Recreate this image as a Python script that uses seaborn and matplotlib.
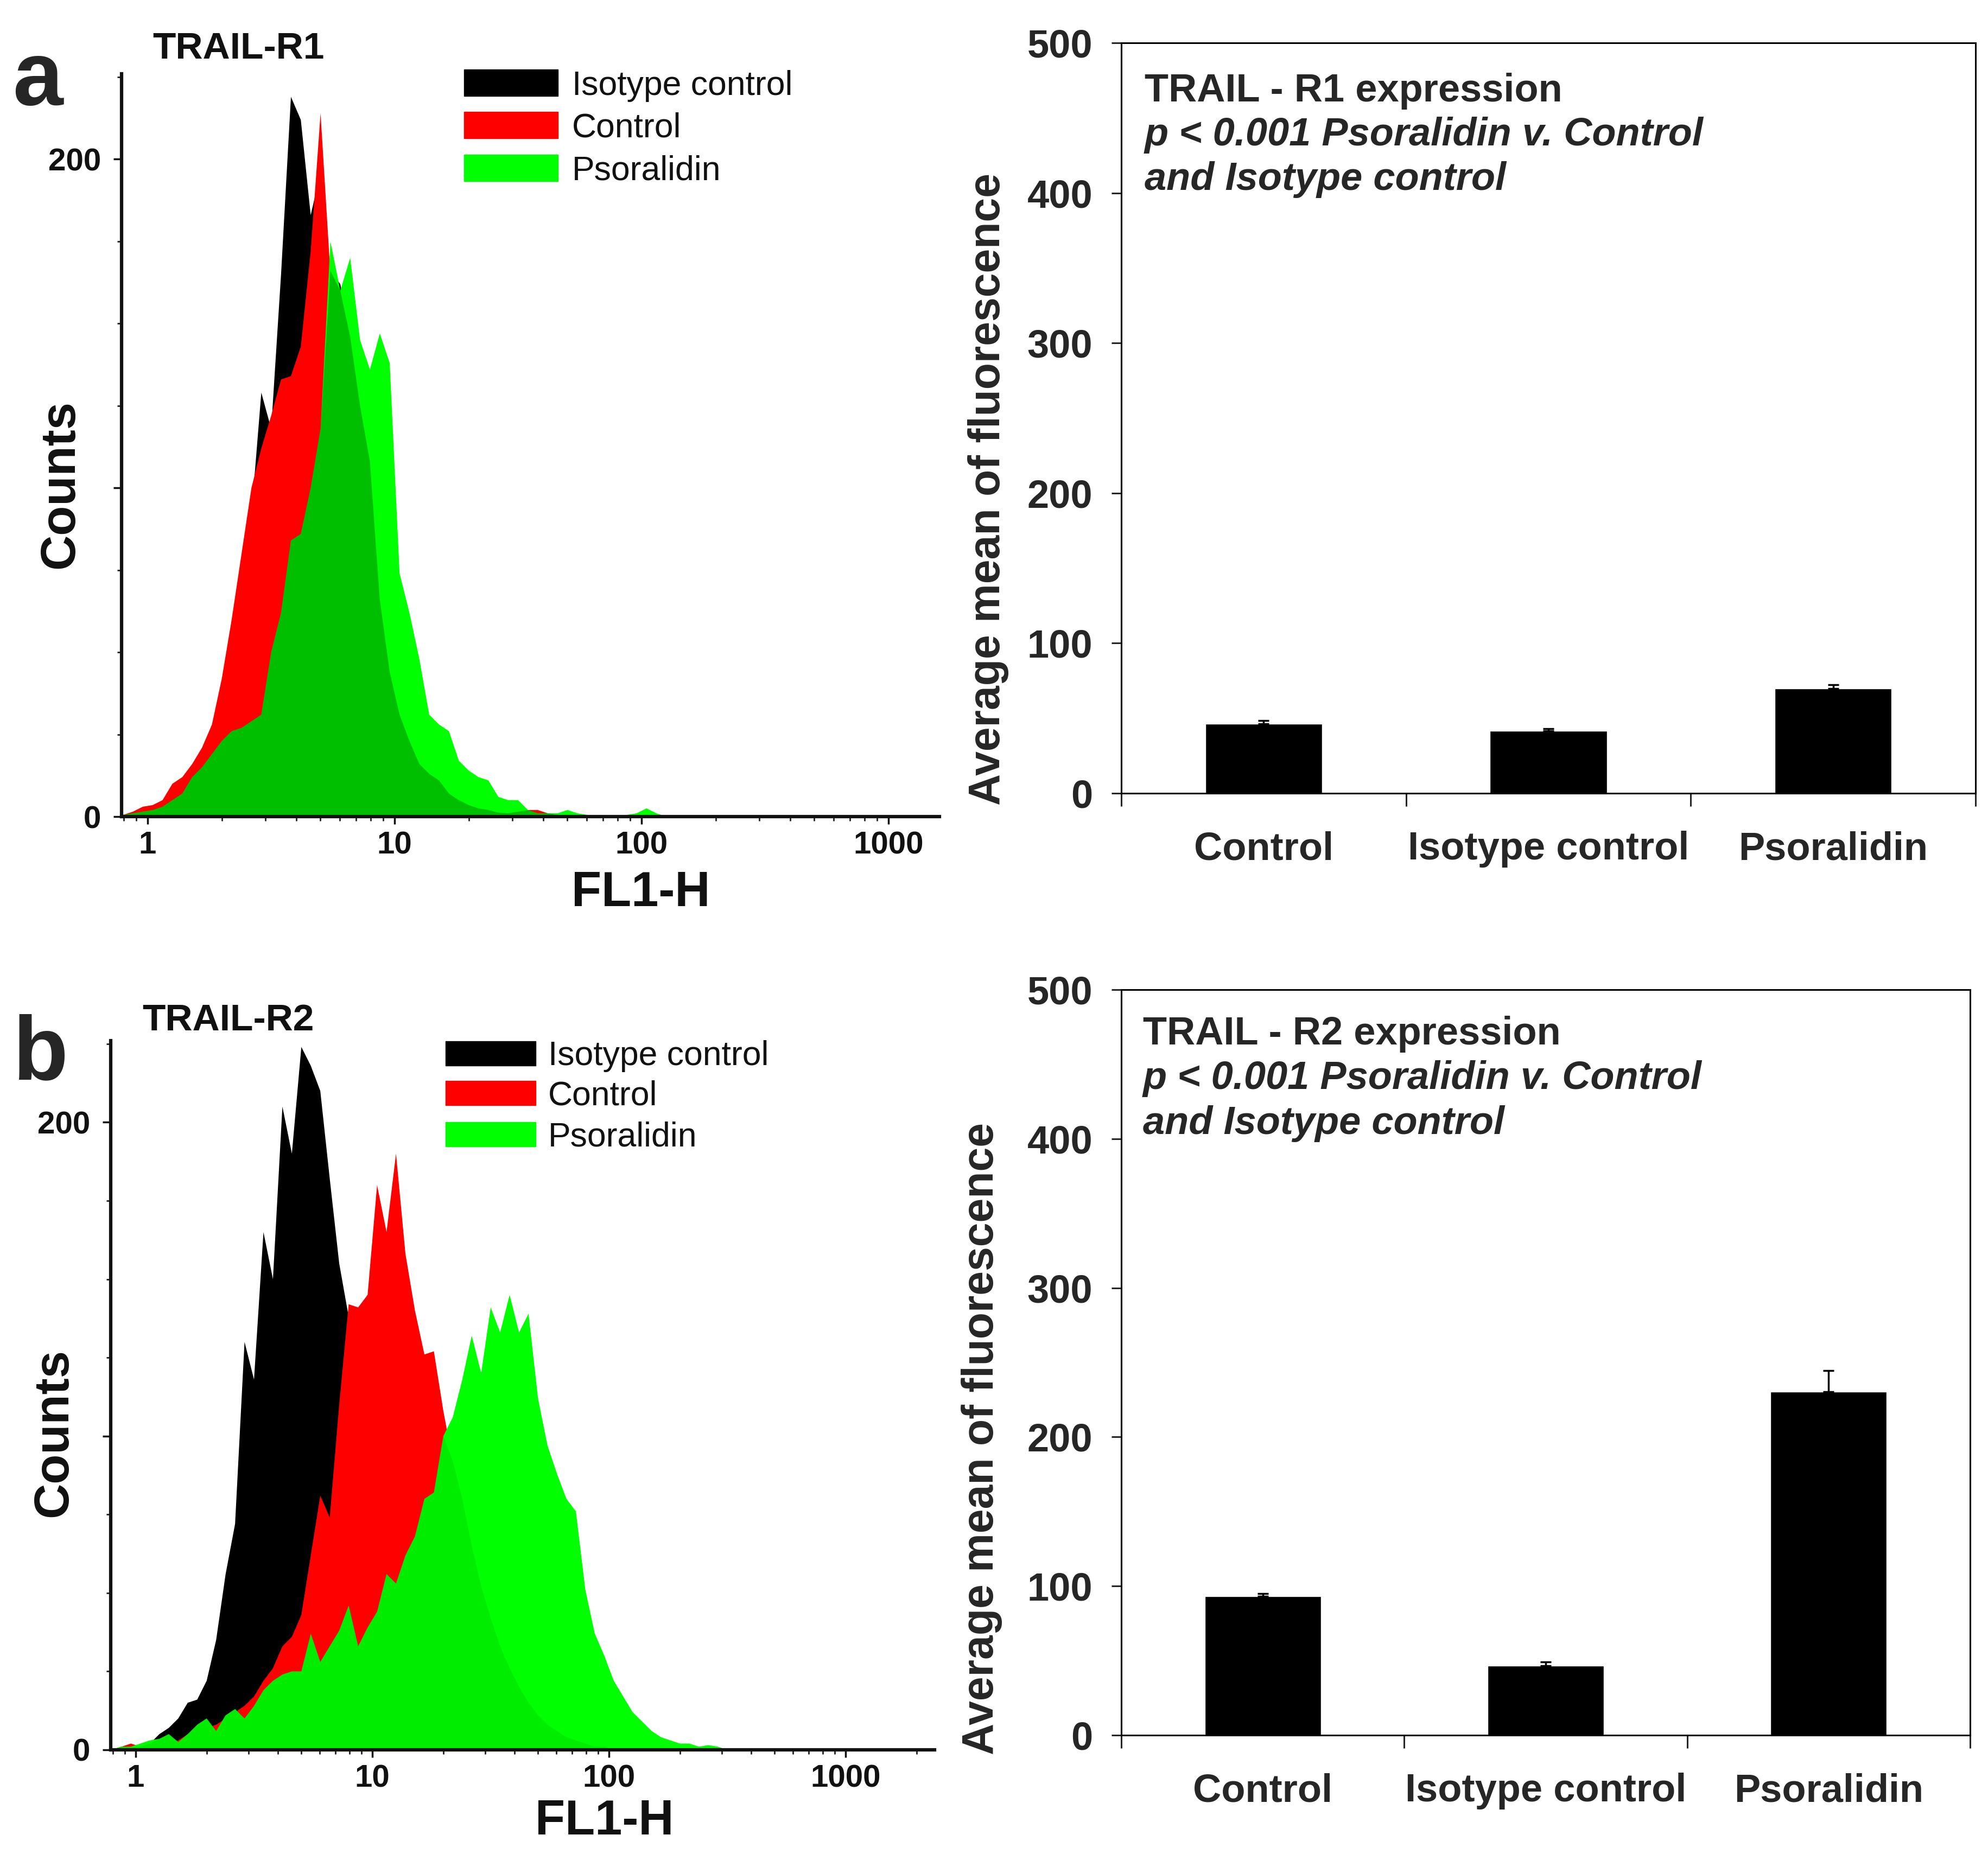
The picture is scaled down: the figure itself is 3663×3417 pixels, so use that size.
import numpy as np
import matplotlib
matplotlib.use("Agg")
import matplotlib.pyplot as plt
import seaborn as sns
from matplotlib import font_manager
from matplotlib.patches import Rectangle
from matplotlib.ticker import MultipleLocator, NullFormatter

# flow histograms: counts per channel, channels 0.04 decade wide,
# first channel centred at log10(FL1-H) = -0.10
bin_step = 0.04
bin_start = -0.10

r1_isotype = [0, 1, 1, 2, 3, 5, 7, 10, 14, 20, 28, 40, 62, 92, 129, 118, 165, 219, 212, 183,
              196, 166, 162, 146, 125, 108, 66, 44, 31, 23, 16, 13, 11, 7, 5, 3.5, 2.5, 2, 1.2, 1,
              0, 0, 0, 0, 0, 0, 0, 0, 0, 0, 0, 0, 0, 0, 0, 0]
r1_control = [0.5, 1.5, 3, 3.5, 5, 10, 12, 16, 21, 28, 42, 60, 80, 100, 112, 122, 133, 134, 143, 172,
              214, 165, 158, 140, 120, 104, 64, 42, 30, 22, 15, 12, 10, 6, 4, 3, 2, 1.5, 1, 1,
              1.5, 2, 2, 1, 0.5, 0, 0, 0, 0, 0, 0, 0, 0, 0, 0, 0]
r1_psoralidin = [0.5, 1, 1.5, 2, 3, 5, 7, 12, 15, 19, 23, 26, 27, 29, 31, 50, 62, 84, 86, 100,
                 118, 175, 160, 170, 145, 136, 147, 138, 74, 62, 48, 31, 28, 26, 17, 14, 12, 11, 6, 5,
                 5, 2, 1, 1, 1, 2, 1, 0.5, 0.5, 0.5, 0.5, 0.5, 1, 2.5, 1, 0]

r2_isotype = [0, 1, 1, 1, 2, 5, 7, 10, 15, 16, 22, 35, 56, 72, 130, 118, 165, 150, 205, 190,
              224, 218, 210, 182, 155, 138, 120, 100, 80, 60, 45, 32, 22, 15, 10, 7, 5, 3, 2, 1,
              1, 0.5, 0, 0, 0, 0, 0, 0, 0, 0, 0, 0, 0, 0, 0, 0, 0, 0, 0, 0,
              0, 0, 0, 0, 0, 0]
r2_control = [0, 1, 2, 1, 1, 1, 2, 3, 5, 6, 7, 8, 10, 12, 14, 17, 22, 26, 33, 36,
              43, 62, 81, 74, 110, 142, 141, 145, 180, 165, 190, 158, 140, 126, 127, 108, 92, 80, 65, 52,
              42, 33, 26, 20, 15, 11, 8, 6, 4, 3, 2, 1, 1, 0, 0, 0, 0, 0, 0, 0,
              0, 0, 0, 0, 0, 0]
r2_psoralidin = [0, 1, 1, 2, 3, 3.5, 5, 2.5, 5, 8, 10, 6, 11, 13, 10, 14, 19, 22, 24, 25,
                 25, 37, 28, 33, 38, 46, 33, 39, 44, 56, 53, 62, 68, 80, 82, 100, 106, 118, 132, 120,
                 141, 133, 145, 133, 139, 112, 97, 88, 80, 76, 51, 37, 30, 22, 17, 12, 9, 6, 4, 3,
                 2, 2, 1, 1.5, 1, 0]

groups = ["Control", "Isotype control", "Psoralidin"]
r1_mean = [46.3, 41.6, 69.8]
r1_err = [2.3, 1.5, 2.4]
r2_mean = [93.2, 46.4, 230.5]
r2_err = [1.9, 2.7, 13.9]

sns.set_style("ticks")
plt.rcParams["font.family"] = ["Liberation Sans", "DejaVu Sans"]

names = {f.name for f in font_manager.fontManager.ttflist}
if "Liberation Sans Narrow" in names:
    leg_family, leg_size = "Liberation Sans Narrow", 54
else:
    leg_family, leg_size = "Liberation Sans", 45
leg_cap = leg_size / 72 * 100 * 0.72

W, H = 3663, 3417


def box(left, top, right, bottom):
    return [left / W, 1 - bottom / H, (right - left) / W, (bottom - top) / H]


def fx(x):
    return x / W


def fy(y):
    return 1 - y / H


fig = plt.figure(figsize=(W / 100, H / 100), dpi=100)


def draw_hist(ax, counts, color, alpha):
    n = len(counts)
    centres = np.round(bin_start + bin_step * np.arange(n), 2)
    lo, hi = centres[0] - bin_step / 2, centres[-1] + bin_step / 2
    sns.histplot(x=10 ** centres, weights=counts, bins=n, binrange=(lo, hi), log_scale=True,
                 element="poly", fill=True, color=color, alpha=alpha,
                 edgecolor="none", linewidth=0, ax=ax)


def flow_panel(ax, isotype, control, psoralidin, shade, xlo, xhi):
    # isotype, control over it, psoralidin over both; where psoralidin
    # covers the other two traces the overlap reads as a darker green
    draw_hist(ax, isotype, "#000000", 1)
    draw_hist(ax, control, "#ff0000", 1)
    draw_hist(ax, psoralidin, "#00ff00", 1)
    overlap = np.minimum(psoralidin, np.maximum(isotype, control))
    draw_hist(ax, overlap, "#000000", shade)

    ax.set_xlim(10 ** xlo, 10 ** xhi)
    ax.set_ylim(0, 226)
    ax.set_xticks([1, 10, 100, 1000])
    ax.set_xticklabels(["1", "10", "100", "1000"])
    ax.xaxis.set_minor_formatter(NullFormatter())
    ax.set_yticks([0, 100, 200])
    ax.set_yticklabels(["0", "", "200"])
    ax.yaxis.set_minor_locator(MultipleLocator(25))
    ax.set_xlabel("")
    ax.set_ylabel("")
    ax.spines[["top", "right"]].set_visible(False)
    for s in ["left", "bottom"]:
        ax.spines[s].set_linewidth(4.5)
        ax.spines[s].set_color("#111111")
    ax.tick_params(axis="x", which="major", length=10, width=2.5, pad=9, labelsize=42, colors="#111111")
    ax.tick_params(axis="x", which="minor", length=6, width=2, colors="#222222")
    ax.tick_params(axis="y", which="major", length=11, width=2.5, pad=16, labelsize=42, colors="#111111")
    ax.tick_params(axis="y", which="minor", length=6, width=2, colors="#222222")
    for lab in ax.get_xticklabels() + ax.get_yticklabels():
        lab.set_fontweight("bold")


def flow_legend(x0, x1, x_text, centres, height):
    for yc, color, label in zip(centres, ["#000000", "#ff0000", "#00ff00"],
                                ["Isotype control", "Control", "Psoralidin"]):
        fig.add_artist(Rectangle((fx(x0), fy(yc + height / 2)), (x1 - x0) / W, height / H,
                                 transform=fig.transFigure, color=color))
        fig.text(fx(x_text), fy(yc + leg_cap / 2), label, family=leg_family,
                 fontsize=leg_size, color="#111111", va="baseline", ha="left")


def bar_panel(ax, means, errs):
    sns.barplot(x=groups, y=means, color="black", saturation=1, width=0.41,
                errorbar=None, ax=ax, zorder=2)
    ax.errorbar(np.arange(3), means, yerr=[np.zeros(3), errs], fmt="none", ecolor="black",
                elinewidth=2.5, capsize=7, capthick=2.5, zorder=3)
    ax.set_xlim(-0.5, 2.5)
    ax.set_ylim(0, 500)
    ax.set_yticks(range(0, 501, 100))
    ax.set_xticks([-0.5, 0.5, 1.5, 2.5])
    ax.set_xticklabels([])
    ax.set_xticks([0, 1, 2], minor=True)
    ax.set_xticklabels(groups, minor=True)
    ax.set_xlabel("")
    ax.set_ylabel("")
    for s in ax.spines.values():
        s.set_visible(True)
        s.set_linewidth(2.2)
        s.set_color("black")
    ax.tick_params(axis="x", which="major", length=17, width=2.2, direction="out")
    ax.tick_params(axis="x", which="minor", length=0, pad=50, labelsize=52)
    ax.tick_params(axis="y", which="major", length=13, width=2.2, pad=25, labelsize=52)
    for lab in ax.get_xticklabels(minor=True) + ax.get_yticklabels():
        lab.set_fontweight("bold")


# panel a
ax_a = fig.add_axes(box(224, 136, 1731, 1505))
flow_panel(ax_a, r1_isotype, r1_control, r1_psoralidin, 0.25, -0.1055, 3.207)
fig.text(fx(23), fy(193), "a", fontsize=120, fontweight="bold", ha="left", va="baseline")
fig.text(fx(281), fy(108), "TRAIL-R1", fontsize=50, fontweight="bold", color="#111111", va="baseline")
flow_legend(855, 1028, 1054, [152, 230, 309], 49)
fig.text(fx(112), fy(892), "Counts", fontsize=65, fontweight="bold", rotation=90,
         ha="center", va="center", color="#111111")
fig.text(fx(1181), fy(1670), "FL1-H", fontsize=65, fontweight="bold", ha="center",
         va="baseline", color="#111111")

bx_a = fig.add_axes(box(2066, 79, 3640, 1462))
bar_panel(bx_a, r1_mean, r1_err)
fig.text(fx(2109), fy(187), "TRAIL - R1 expression", fontsize=52, fontweight="bold", va="baseline")
fig.text(fx(2109), fy(268), "p < 0.001 Psoralidin v. Control", fontsize=52, fontweight="bold",
         style="italic", va="baseline")
fig.text(fx(2109), fy(350), "and Isotype control", fontsize=52, fontweight="bold",
         style="italic", va="baseline")
fig.text(fx(1821), fy(902), "Average mean of fluorescence", fontsize=58, fontweight="bold",
         rotation=90, ha="center", va="center")

# panel b
ax_b = fig.add_axes(box(204, 1918, 1722, 3225))
flow_panel(ax_b, r2_isotype, r2_control, r2_psoralidin, 0.07, -0.105, 3.376)
fig.text(fx(23), fy(1989), "b", fontsize=120, fontweight="bold", ha="left", va="baseline")
fig.text(fx(262), fy(1899), "TRAIL-R2", fontsize=50, fontweight="bold", color="#111111", va="baseline")
flow_legend(821, 987, 1010, [1941, 2014, 2090], 45)
fig.text(fx(100), fy(2640), "Counts", fontsize=65, fontweight="bold", rotation=90,
         ha="center", va="center", color="#111111")
fig.text(fx(1114), fy(3381), "FL1-H", fontsize=65, fontweight="bold", ha="center",
         va="baseline", color="#111111")

bx_b = fig.add_axes(box(2066, 1824, 3630, 3198))
bar_panel(bx_b, r2_mean, r2_err)
fig.text(fx(2106), fy(1925), "TRAIL - R2 expression", fontsize=52, fontweight="bold", va="baseline")
fig.text(fx(2106), fy(2007), "p < 0.001 Psoralidin v. Control", fontsize=52, fontweight="bold",
         style="italic", va="baseline")
fig.text(fx(2106), fy(2090), "and Isotype control", fontsize=52, fontweight="bold",
         style="italic", va="baseline")
fig.text(fx(1809), fy(2651), "Average mean of fluorescence", fontsize=58, fontweight="bold",
         rotation=90, ha="center", va="center")

fig.savefig("out.png", dpi=100, facecolor="white")
